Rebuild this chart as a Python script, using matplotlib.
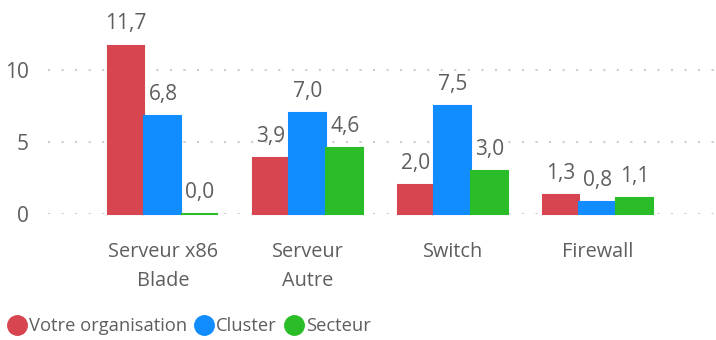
import numpy as np
import matplotlib.pyplot as plt
from matplotlib.lines import Line2D

plt.rcParams['font.family'] = ['Open Sans', 'DejaVu Sans']

categories = ["Serveur x86\nBlade", "Serveur\nAutre", "Switch", "Firewall"]
series_names = ["Votre organisation", "Cluster", "Secteur"]
votre_org = [11.7, 3.9, 2.0, 1.3]
cluster = [6.8, 7.0, 7.5, 0.8]
secteur = [0.0, 4.6, 3.0, 1.1]
colors = ["#D64550", "#118DFF", "#2ABD27"]
ticks = [0, 5, 10]

text_color = "#605E5C"

fig = plt.figure(figsize=(7.16, 3.4), dpi=100)
ax = fig.add_axes([48 / 716, (340 - 214) / 340, 668 / 716, 204 / 340])

x = np.arange(len(categories))
width = 0.255
for i, (vals, col) in enumerate(zip([votre_org, cluster, secteur], colors)):
    pos = x + (i - 1) * width
    bars = ax.bar(pos, vals, width, color=col, zorder=3,
                  edgecolor=col, linewidth=1.5, clip_on=False)
    for p, v in zip(pos, vals):
        ax.annotate(f"{v:.1f}".replace(".", ","), (p, v),
                    xytext=(0, 8), textcoords="offset points",
                    ha="center", va="bottom", fontsize=15,
                    color=text_color)

ax.set_xlim(-0.793, 3.814)
ax.set_ylim(0, 204 / 14.4)

for t in ticks:
    ax.axhline(t, color="#CCCCCC", linewidth=1.5, linestyle=(0, (1, 5.5)),
               zorder=1)

ax.set_yticks(ticks)
ax.set_yticklabels([str(t) for t in ticks], fontsize=15, color=text_color)
ax.set_xticks(x)
ax.set_xticklabels(categories, fontsize=14.3, color=text_color,
                   linespacing=1.6)
ax.tick_params(axis="both", length=0)
ax.tick_params(axis="y", pad=14)
ax.tick_params(axis="x", pad=20)
for s in ax.spines.values():
    s.set_visible(False)

handles = [Line2D([], [], marker="o", linestyle="", markersize=14,
                  markerfacecolor=c, markeredgecolor=c) for c in colors]
fig.legend(handles, series_names, loc="lower left",
           bbox_to_anchor=(-0.015, -0.035), ncol=3, frameon=False,
           fontsize=13.2, labelcolor=text_color, handletextpad=0.05,
           columnspacing=0.35, handlelength=1.2)

fig.savefig("out.png", dpi=100)
